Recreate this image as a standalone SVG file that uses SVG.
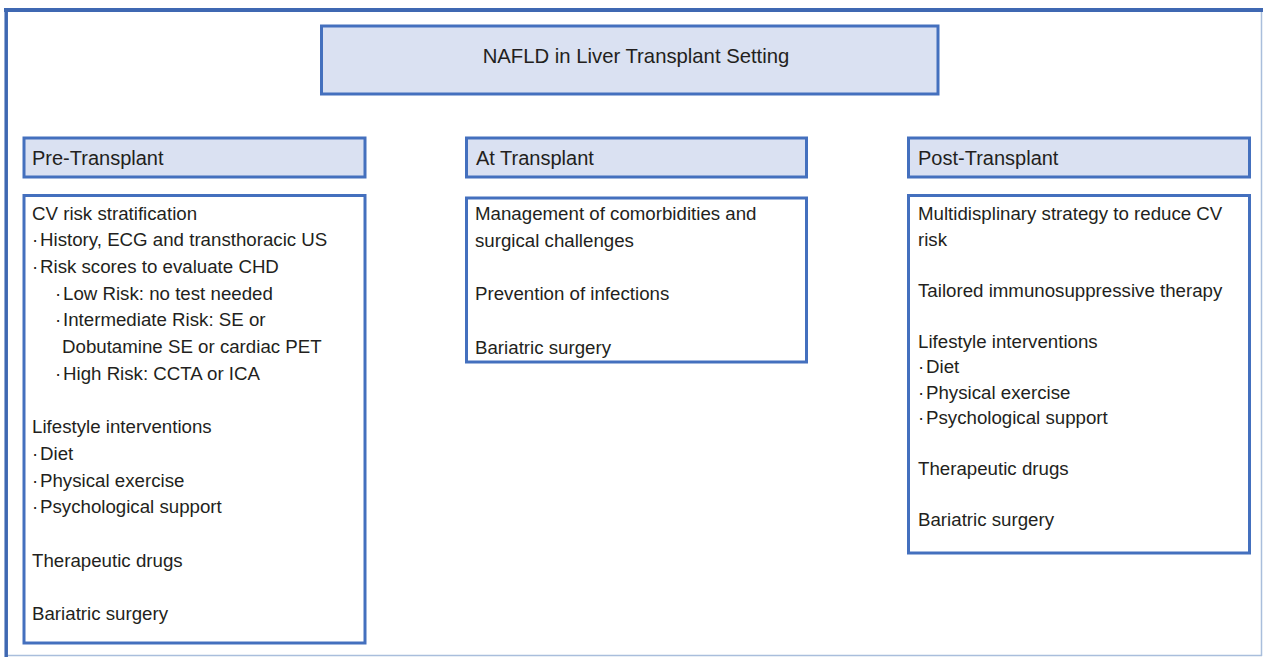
<svg xmlns="http://www.w3.org/2000/svg" width="1263" height="657" viewBox="0 0 1263 657">
<style>
.box{fill:#ffffff;stroke:#4470BE;stroke-width:3}
.hdr{fill:#DAE1F2;stroke:#4470BE;stroke-width:3}
text{font-family:"Liberation Sans",Arial,sans-serif;fill:#231F20}
.t{font-size:18.7px}
.h{font-size:20px}
.ti{font-size:20.3px}
</style>
<rect width="1263" height="657" fill="#ffffff"/>
<g id="frame">
<line x1="1261.5" y1="10" x2="1261.5" y2="656" stroke="#A9BEDC" stroke-width="1.5"/>
<line x1="6" y1="655.5" x2="1262" y2="655.5" stroke="#A9BEDC" stroke-width="1.5"/>
<line x1="4" y1="10" x2="1263" y2="10" stroke="#3F68B2" stroke-width="4"/>
<line x1="6.2" y1="8" x2="6.2" y2="657" stroke="#3F68B2" stroke-width="3.5"/>
</g>
<g id="connectors"/>
<g id="title">
<rect class="hdr" x="321.5" y="26" width="616.5" height="68"/>
<text class="ti" x="636" y="63" text-anchor="middle">NAFLD in Liver Transplant Setting</text>
</g>
<g id="pre-header">
<rect class="hdr" x="24" y="138" width="341" height="39"/>
<text class="h" x="32" y="164.5">Pre-Transplant</text>
</g>
<g id="at-header">
<rect class="hdr" x="466.5" y="138" width="340" height="39"/>
<text class="h" x="476" y="164.5">At Transplant</text>
</g>
<g id="post-header">
<rect class="hdr" x="908.5" y="138" width="341" height="39"/>
<text class="h" x="918" y="164.5">Post-Transplant</text>
</g>
<g id="pre-content">
<rect class="box" x="24" y="195.5" width="341" height="447.5"/>
<text class="t" x="32" y="219.5">CV risk stratification</text>
<text class="t" x="32" y="246.2">·<tspan x="40">History, ECG and transthoracic US</tspan></text>
<text class="t" x="32" y="272.9">·<tspan x="40">Risk scores to evaluate CHD</tspan></text>
<text class="t" x="55" y="299.6">·<tspan x="63">Low Risk: no test needed</tspan></text>
<text class="t" x="55" y="326.3">·<tspan x="63">Intermediate Risk: SE or</tspan></text>
<text class="t" x="62" y="353">Dobutamine SE or cardiac PET</text>
<text class="t" x="55" y="379.7">·<tspan x="63">High Risk: CCTA or ICA</tspan></text>
<text class="t" x="32" y="433.1">Lifestyle interventions</text>
<text class="t" x="32" y="459.8">·<tspan x="40">Diet</tspan></text>
<text class="t" x="32" y="486.5">·<tspan x="40">Physical exercise</tspan></text>
<text class="t" x="32" y="513.2">·<tspan x="40">Psychological support</tspan></text>
<text class="t" x="32" y="566.6">Therapeutic drugs</text>
<text class="t" x="32" y="620">Bariatric surgery</text>
</g>
<g id="at-content">
<rect class="box" x="466.5" y="198" width="340" height="164"/>
<text class="t" x="475" y="220">Management of comorbidities and</text>
<text class="t" x="475" y="246.7">surgical challenges</text>
<text class="t" x="475" y="300.1">Prevention of infections</text>
<text class="t" x="475" y="353.5">Bariatric surgery</text>
</g>
<g id="post-content">
<rect class="box" x="908.5" y="195.5" width="341" height="357.5"/>
<text class="t" x="918" y="220">Multidisplinary strategy to reduce CV</text>
<text class="t" x="918" y="245.5">risk</text>
<text class="t" x="918" y="296.5">Tailored immunosuppressive therapy</text>
<text class="t" x="918" y="347.5">Lifestyle interventions</text>
<text class="t" x="918" y="373">·<tspan x="926">Diet</tspan></text>
<text class="t" x="918" y="398.5">·<tspan x="926">Physical exercise</tspan></text>
<text class="t" x="918" y="424">·<tspan x="926">Psychological support</tspan></text>
<text class="t" x="918" y="475">Therapeutic drugs</text>
<text class="t" x="918" y="526">Bariatric surgery</text>
</g>
</svg>
